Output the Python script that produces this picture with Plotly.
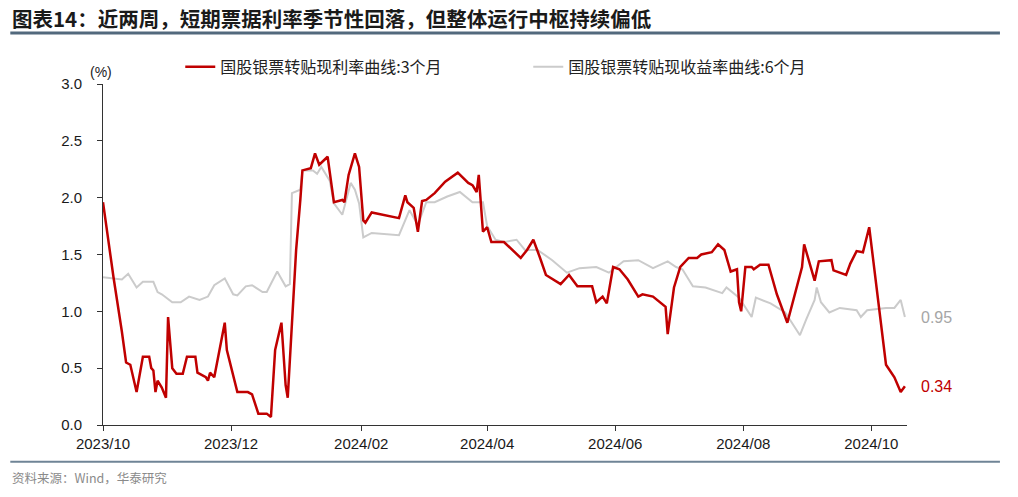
import plotly.graph_objects as go

# ---------------- data ----------------
red_name = "国股银票转贴现利率曲线:3个月"
gray_name = "国股银票转贴现收益率曲线:6个月"

red_dates = [
    "2023-10-01", "2023-10-04", "2023-10-06", "2023-10-10", "2023-10-12", "2023-10-14", "2023-10-17", "2023-10-20",
    "2023-10-23", "2023-10-24", "2023-10-25", "2023-10-26", "2023-10-27", "2023-10-29", "2023-10-31",
    "2023-11-01", "2023-11-03", "2023-11-05", "2023-11-08", "2023-11-10", "2023-11-14", "2023-11-15", "2023-11-19",
    "2023-11-20", "2023-11-21", "2023-11-23", "2023-11-28", "2023-11-29",
    "2023-12-04", "2023-12-09", "2023-12-11", "2023-12-14", "2023-12-18", "2023-12-20", "2023-12-22", "2023-12-25",
    "2023-12-27", "2023-12-28",
    "2024-01-01", "2024-01-03", "2024-01-04", "2024-01-08", "2024-01-10", "2024-01-12", "2024-01-16", "2024-01-19",
    "2024-01-23", "2024-01-24", "2024-01-26", "2024-01-29", "2024-01-31",
    "2024-02-02", "2024-02-03", "2024-02-06", "2024-02-19", "2024-02-22", "2024-02-23", "2024-02-26", "2024-02-28",
    "2024-03-01", "2024-03-03", "2024-03-07", "2024-03-12", "2024-03-18", "2024-03-23", "2024-03-25", "2024-03-27",
    "2024-03-28", "2024-03-30",
    "2024-04-01", "2024-04-03", "2024-04-09", "2024-04-17", "2024-04-20", "2024-04-23", "2024-04-26", "2024-04-29",
    "2024-05-06", "2024-05-10", "2024-05-14", "2024-05-21", "2024-05-23", "2024-05-26", "2024-05-28", "2024-05-31",
    "2024-06-03", "2024-06-07", "2024-06-12", "2024-06-14", "2024-06-19", "2024-06-25", "2024-06-26", "2024-06-27",
    "2024-06-29",
    "2024-07-02", "2024-07-06", "2024-07-10", "2024-07-12", "2024-07-17", "2024-07-20", "2024-07-23", "2024-07-26",
    "2024-07-29", "2024-07-30", "2024-07-31",
    "2024-08-02", "2024-08-05", "2024-08-06", "2024-08-09", "2024-08-13", "2024-08-17", "2024-08-22", "2024-08-29",
    "2024-08-30",
    "2024-09-04", "2024-09-06", "2024-09-12", "2024-09-13", "2024-09-19", "2024-09-21", "2024-09-24", "2024-09-27",
    "2024-09-30",
    "2024-10-08", "2024-10-12", "2024-10-15", "2024-10-17",
]
red_values = [
    1.96, 1.54, 1.30, 0.82, 0.55, 0.53, 0.29, 0.60, 0.60, 0.50, 0.48, 0.29, 0.39, 0.33, 0.24,
    0.95, 0.50, 0.45, 0.45, 0.60, 0.60, 0.46, 0.42, 0.39, 0.46, 0.42, 0.90, 0.66,
    0.29, 0.29, 0.27, 0.10, 0.10, 0.07, 0.66, 0.90, 0.35, 0.24,
    1.54, 1.98, 2.24, 2.26, 2.39, 2.29, 2.36, 1.96, 1.98, 1.96, 2.20, 2.39, 2.27,
    1.80, 1.78, 1.87, 1.82, 2.02, 1.96, 1.91, 1.70,
    1.97, 1.98, 2.04, 2.14, 2.22, 2.13, 2.11, 2.05, 2.20, 1.70,
    1.74, 1.61, 1.61, 1.47, 1.54, 1.63, 1.48, 1.32,
    1.24, 1.32, 1.22, 1.22, 1.08, 1.13, 1.07, 1.39,
    1.37, 1.28, 1.13, 1.15, 1.13, 1.04, 0.80, 0.94, 1.21,
    1.39, 1.47, 1.47, 1.50, 1.52, 1.59, 1.54, 1.35, 1.37, 1.08, 1.00,
    1.39, 1.39, 1.37, 1.41, 1.41, 1.15, 0.90, 1.39, 1.59,
    1.27, 1.44, 1.45, 1.36, 1.32, 1.42, 1.53, 1.52, 1.74,
    0.53, 0.42, 0.29, 0.34,
]

gray_dates = [
    "2023-10-01", "2023-10-10", "2023-10-13", "2023-10-17", "2023-10-20", "2023-10-25", "2023-10-27", "2023-10-29",
    "2023-11-03", "2023-11-07", "2023-11-11", "2023-11-16", "2023-11-20", "2023-11-23", "2023-11-28",
    "2023-12-02", "2023-12-04", "2023-12-08", "2023-12-11", "2023-12-16", "2023-12-18", "2023-12-23", "2023-12-27",
    "2023-12-29", "2023-12-30",
    "2024-01-03", "2024-01-04", "2024-01-09", "2024-01-11", "2024-01-13", "2024-01-17", "2024-01-19", "2024-01-23",
    "2024-01-27", "2024-01-29", "2024-01-31",
    "2024-02-02", "2024-02-06", "2024-02-19", "2024-02-24", "2024-02-28",
    "2024-03-03", "2024-03-07", "2024-03-13", "2024-03-19", "2024-03-25", "2024-03-30",
    "2024-04-01", "2024-04-05", "2024-04-09", "2024-04-15", "2024-04-19", "2024-04-25",
    "2024-05-02", "2024-05-09", "2024-05-15", "2024-05-23", "2024-05-29",
    "2024-06-05", "2024-06-12", "2024-06-19", "2024-06-26", "2024-06-30",
    "2024-07-03", "2024-07-08", "2024-07-14", "2024-07-22", "2024-07-24", "2024-07-30",
    "2024-08-05", "2024-08-07", "2024-08-14", "2024-08-21", "2024-08-28", "2024-08-31",
    "2024-09-04", "2024-09-05", "2024-09-07", "2024-09-11", "2024-09-16", "2024-09-24", "2024-09-26", "2024-09-29",
    "2024-10-08", "2024-10-12", "2024-10-15", "2024-10-17",
]
gray_values = [
    1.30, 1.28, 1.33, 1.21, 1.26, 1.26, 1.17, 1.15,
    1.08, 1.08, 1.13, 1.10, 1.13, 1.23, 1.29,
    1.15, 1.14, 1.22, 1.23, 1.17, 1.17, 1.35, 1.22, 1.24, 2.04,
    2.07, 2.24, 2.24, 2.21, 2.27, 2.15, 1.95, 1.85, 2.13, 2.07, 1.95,
    1.65, 1.69, 1.67, 1.89, 1.76,
    1.96, 1.96, 2.01, 2.05, 1.96, 1.96,
    1.75, 1.63, 1.61, 1.63, 1.54, 1.54,
    1.45, 1.34, 1.38, 1.39, 1.34,
    1.44, 1.45, 1.38, 1.44, 1.39,
    1.37, 1.22, 1.21, 1.16, 1.21, 1.12,
    0.95, 1.12, 1.07, 0.99, 0.79, 0.93,
    1.10, 1.21, 1.08, 0.99, 1.03, 1.01, 0.95, 1.01,
    1.03, 1.03, 1.10, 0.95,
]

title_text = "图表14：近两周，短期票据利率季节性回落，但整体运行中枢持续偏低"
source_text = "资料来源：Wind，华泰研究"
x_range = ["2023-10-01", "2024-10-18"]
y_ticks = [0.0, 0.5, 1.0, 1.5, 2.0, 2.5, 3.0]

RED = "#C00000"
GRAY = "#CBCBCB"
CJK = "Noto Sans CJK SC"
LAT = "Arial"
LAB = "Arial, Liberation Sans, sans-serif"

fig = go.Figure()
fig.add_trace(go.Scatter(x=gray_dates, y=gray_values, mode="lines", name=gray_name,
                         line=dict(color=GRAY, width=2)))
fig.add_trace(go.Scatter(x=red_dates, y=red_values, mode="lines", name=red_name,
                         line=dict(color=RED, width=2.5)))

# end-value labels
fig.add_annotation(x=gray_dates[-1], y=gray_values[-1], text=f"{gray_values[-1]:.2f}",
                   showarrow=False, xanchor="left", xshift=14,
                   font=dict(family=LAB, size=16, color="#A6A6A6"))
fig.add_annotation(x=red_dates[-1], y=red_values[-1], text=f"{red_values[-1]:.2f}",
                   showarrow=False, xanchor="left", xshift=14,
                   font=dict(family=LAB, size=16, color=RED))

# title, unit, source
fig.add_annotation(xref="paper", yref="paper", x=-0.1153, y=1.193, text=f"<b>{title_text}</b>",
                   showarrow=False, xanchor="left", yanchor="middle",
                   font=dict(family=CJK, size=20.5, color="#1a1a1a"))
fig.add_annotation(xref="paper", yref="paper", x=-0.003, y=1.035, text="(%)",
                   showarrow=False, xanchor="center", yanchor="middle",
                   font=dict(family=LAB, size=14, color="#222222"))
fig.add_annotation(xref="paper", yref="paper", x=-0.1153, y=-0.155, text=source_text,
                   showarrow=False, xanchor="left", yanchor="middle",
                   font=dict(family=CJK, size=12.5, color="#8a8a8a"))

# separator rules
fig.add_shape(type="line", xref="paper", yref="paper", x0=-0.1153, x1=1.1156, y0=1.1494, y1=1.1494,
              line=dict(color="#52697D", width=3))
fig.add_shape(type="line", xref="paper", yref="paper", x0=-0.1153, x1=1.1156, y0=-0.1075, y1=-0.1075,
              line=dict(color="#6F8496", width=2))

fig.update_layout(
    width=1018, height=497, autosize=False,
    margin=dict(l=103, r=111, t=84, b=72),
    plot_bgcolor="white", paper_bgcolor="white",
    showlegend=True,
    legend=dict(orientation="h", x=0.0961, y=1.05, xanchor="left", yanchor="middle",
                traceorder="reversed",
                entrywidth=303, entrywidthmode="pixels",
                font=dict(family=CJK, size=16, color="#222222"),
                bgcolor="rgba(0,0,0,0)"),
    xaxis=dict(type="date", range=x_range, tick0="2023-10-01", dtick="M2", tickformat="%Y/%m",
               showgrid=False, zeroline=False, showline=True, linecolor="#333333", linewidth=1,
               ticks="outside", ticklen=5, tickcolor="#333333",
               tickfont=dict(family=LAT, size=15, color="#1a1a1a")),
    yaxis=dict(range=[0, 3], tickvals=y_ticks, tickformat=".1f",
               showgrid=False, zeroline=False, showline=True, linecolor="#333333", linewidth=1,
               ticks="outside", ticklen=5, tickcolor="#333333", ticklabelstandoff=12,
               tickfont=dict(family=LAT, size=15, color="#1a1a1a")),
)

fig.write_html("out.html", config={"displayModeBar": False},
               post_script="document.body.style.margin='0';document.body.style.padding='0';")
